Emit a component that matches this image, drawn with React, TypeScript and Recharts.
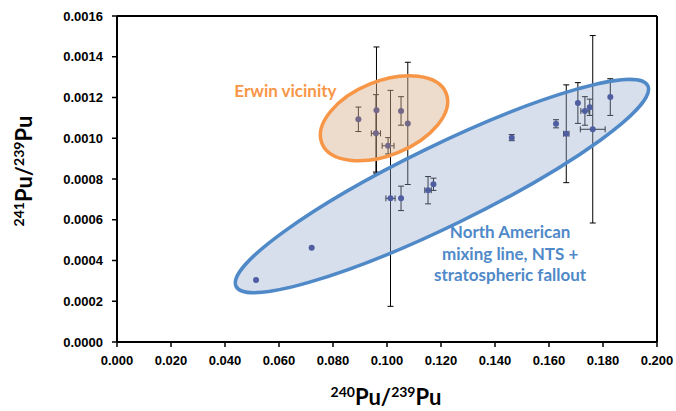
import React from "react";
import {
  ScatterChart, Scatter, XAxis, YAxis, ErrorBar,
  ReferenceLine, ReferenceArea, ReferenceDot,
} from "recharts";

// x = 240Pu/239Pu, y = 241Pu/239Pu, ex/ey = error half-widths
type Pt = { x: number; y: number; ex: number | null; ey: number | null };

const erwinPoints: Pt[] = [
  { x: 0.0894, y: 0.001093, ex: null, ey: 0.00006 },
  { x: 0.0961, y: 0.001138, ex: null, ey: 0.00031 },
  { x: 0.0959, y: 0.001024, ex: 0.0017, ey: 0.00019 },
  { x: 0.1004, y: 0.000963, ex: 0.0022, ey: 0.00004 },
  { x: 0.1052, y: 0.001134, ex: null, ey: 0.00007 },
  { x: 0.1077, y: 0.001073, ex: null, ey: 0.0003 },
];

const northAmericanPoints: Pt[] = [
  { x: 0.0515, y: 0.000304, ex: null, ey: null },
  { x: 0.0721, y: 0.000463, ex: null, ey: null },
  { x: 0.1013, y: 0.000705, ex: 0.0017, ey: 0.00053 },
  { x: 0.1052, y: 0.000705, ex: null, ey: 0.00006 },
  { x: 0.1152, y: 0.000745, ex: 0.0012, ey: 0.000067 },
  { x: 0.1172, y: 0.000774, ex: null, ey: 0.00003 },
  { x: 0.1462, y: 0.001003, ex: null, ey: 0.000015 },
  { x: 0.1626, y: 0.001071, ex: null, ey: 0.00002 },
  { x: 0.1664, y: 0.001022, ex: 0.001, ey: 0.00024 },
  { x: 0.1707, y: 0.001173, ex: null, ey: 0.0001 },
  { x: 0.1733, y: 0.001134, ex: 0.0015, ey: 0.00007 },
  { x: 0.1751, y: 0.001152, ex: null, ey: 0.00004 },
  { x: 0.1762, y: 0.001044, ex: 0.0046, ey: 0.00046 },
  { x: 0.1827, y: 0.001202, ex: null, ey: 0.00009 },
];

const xTicks = [0, 0.02, 0.04, 0.06, 0.08, 0.1, 0.12, 0.14, 0.16, 0.18, 0.2];
const yTicks = [0, 0.0002, 0.0004, 0.0006, 0.0008, 0.001, 0.0012, 0.0014, 0.0016];

// grouping ellipses: major-axis end points in data units
const erwinAxis = { x1: 0.0759, y1: 0.000975, x2: 0.1219, y2: 0.001221 };
const mixingAxis = { x1: 0.0441, y1: 0.000273, x2: 0.1966, y2: 0.001258 };

const erwinLabel = "Erwin vicinity";
const mixingLabel = ["North American", "mixing line, NTS +", "stratospheric fallout"];

const DOT = "#232f86";
const ORANGE = "#f79646";
const BLUE = "#5089c8";
const TICK_FONT = "'Liberation Sans', Arial, sans-serif";
const TITLE_FONT = "Lato, 'Noto Sans', sans-serif";

const tickStyle = { fontSize: 13, fontWeight: 700, fill: "#000", fontFamily: TICK_FONT };

const dot = (p: any) => <circle cx={p.cx} cy={p.cy} r={3} fill={DOT} />;

function ellipseShape(stroke: string, fill: string, ry: number) {
  return (p: any) => {
    const { x, y, width, height } = p;
    const cx = x + width / 2;
    const cy = y + height / 2;
    const rx = Math.sqrt(width * width + height * height) / 2;
    const ang = (-Math.atan2(height, width) * 180) / Math.PI;
    return (
      <ellipse
        cx={cx} cy={cy} rx={rx} ry={ry}
        transform={`rotate(${ang} ${cx} ${cy})`}
        fill={fill} stroke={stroke} strokeWidth={3.5}
      />
    );
  };
}

function supTitle(a: string, b: string) {
  return [
    <tspan key="1" fontSize={14} dy={-8}>{a}</tspan>,
    <tspan key="2" fontSize={22} dy={8}>Pu/</tspan>,
    <tspan key="3" fontSize={14} dy={-8}>{b}</tspan>,
    <tspan key="4" fontSize={22} dy={8}>Pu</tspan>,
  ];
}

export default function App() {
  return (
    <div style={{ position: "absolute", left: 0, top: 0 }}>
      <ScatterChart width={676} height={411} margin={{ top: 16, right: 19, bottom: 0, left: 0 }}>
        <XAxis
          type="number" dataKey="x" domain={[0, 0.2]} ticks={xTicks}
          tickFormatter={(v: number) => v.toFixed(3)}
          height={69} tickSize={5} tickMargin={9} interval={0}
          tick={tickStyle}
          axisLine={{ stroke: "#000", strokeWidth: 2 }}
          tickLine={{ stroke: "#000", strokeWidth: 1.5 }}
          label={{
            content: (lp: any) => {
              const vb = lp.viewBox;
              return (
                <text x={vb.x + vb.width / 2 - 1} y={vb.y + 63} textAnchor="middle"
                  fontFamily={TITLE_FONT} fontWeight={700} fill="#000">
                  {supTitle("240", "239")}
                </text>
              );
            },
          }}
        />
        <YAxis
          type="number" dataKey="y" domain={[0, 0.0016]} ticks={yTicks}
          tickFormatter={(v: number) => v.toFixed(4)}
          width={117} tickSize={5} tickMargin={9} interval={0}
          tick={tickStyle}
          axisLine={{ stroke: "#000", strokeWidth: 2 }}
          tickLine={{ stroke: "#000", strokeWidth: 1.5 }}
          label={{
            content: () => (
              <text x={32} y={171} textAnchor="middle" transform="rotate(-90 32 171)"
                fontFamily={TITLE_FONT} fontWeight={700} fill="#000">
                {supTitle("241", "239")}
              </text>
            ),
          }}
        />
        <ReferenceLine y={0.0016} stroke="#000" strokeWidth={2} />
        <ReferenceLine x={0.2} stroke="#000" strokeWidth={2} />

        <Scatter name="Erwin vicinity" data={erwinPoints} shape={dot} isAnimationActive={false}>
          <ErrorBar dataKey="ey" direction="y" width={3} stroke="#000" strokeWidth={1} />
          <ErrorBar dataKey="ex" direction="x" width={3} stroke="#000" strokeWidth={1} />
        </Scatter>
        <Scatter name="North American" data={northAmericanPoints} shape={dot} isAnimationActive={false}>
          <ErrorBar dataKey="ey" direction="y" width={3} stroke="#000" strokeWidth={1} />
          <ErrorBar dataKey="ex" direction="x" width={3} stroke="#000" strokeWidth={1} />
        </Scatter>

        <ReferenceArea {...erwinAxis} ifOverflow="visible" zIndex={800}
          shape={ellipseShape(ORANGE, "rgba(214,176,140,0.45)", 37)} />
        <ReferenceArea {...mixingAxis} ifOverflow="visible" zIndex={800}
          shape={ellipseShape(BLUE, "rgba(150,172,205,0.38)", 40)} />

        <ReferenceDot x={0.0624} y={0.001232} r={0} ifOverflow="visible" zIndex={900}
          label={{
            content: (lp: any) => (
              <text x={lp.viewBox.x} y={lp.viewBox.y + 6} textAnchor="middle"
                fontFamily={TITLE_FONT} fontWeight={700} fontSize={17} fill={ORANGE}>
                {erwinLabel}
              </text>
            ),
          }}
        />
        <ReferenceDot x={0.1456} y={0.000432} r={0} ifOverflow="visible" zIndex={900}
          label={{
            content: (lp: any) => (
              <text x={lp.viewBox.x} y={lp.viewBox.y - 16} textAnchor="middle"
                fontFamily={TITLE_FONT} fontWeight={700} fontSize={17} fill={BLUE}>
                {mixingLabel.map((s, i) => (
                  <tspan key={i} x={lp.viewBox.x} dy={i === 0 ? 0 : 21.7}>{s}</tspan>
                ))}
              </text>
            ),
          }}
        />
      </ScatterChart>
    </div>
  );
}
